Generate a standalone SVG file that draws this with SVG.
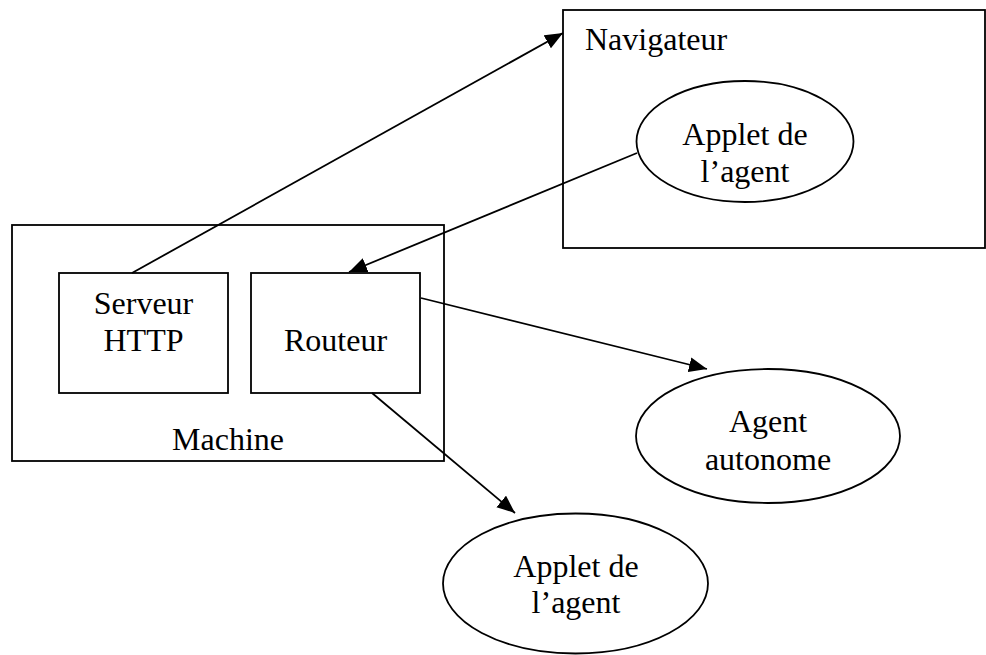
<svg xmlns="http://www.w3.org/2000/svg" width="986" height="655" viewBox="0 0 986 655">
<style>
.s{fill:#fff;stroke:#000;stroke-width:1.8}
.t{font-family:"Liberation Serif","Times New Roman",serif;font-size:32px;fill:#000}
.c{text-anchor:middle}
.l{stroke:#000;stroke-width:1.8;fill:none;marker-end:url(#ah)}
</style>
<defs>
<marker id="ah" markerUnits="userSpaceOnUse" markerWidth="20" markerHeight="16" refX="18" refY="7.5" orient="auto">
<path d="M0,0 L18,7.5 L0,15 Z" fill="#000"/>
</marker>
</defs>
<g id="navigateur">
<rect class="s" x="563" y="10" width="422" height="238"/>
<text class="t" x="585" y="50">Navigateur</text>
</g>
<g id="applet1">
<ellipse class="s" cx="745" cy="141.5" rx="108.5" ry="60.5"/>
<text class="t c" x="745" y="145">Applet de</text>
<text class="t c" x="745" y="182">l’agent</text>
</g>
<g id="machine">
<rect class="s" x="12" y="225" width="432" height="236"/>
<text class="t c" x="228" y="450">Machine</text>
</g>
<g id="serveur">
<rect class="s" x="59" y="273" width="169" height="120"/>
<text class="t c" x="143.5" y="314">Serveur</text>
<text class="t c" x="143.5" y="351">HTTP</text>
</g>
<g id="routeur">
<rect class="s" x="251" y="273" width="169" height="120"/>
<text class="t c" x="335.5" y="351">Routeur</text>
</g>
<g id="agent">
<ellipse class="s" cx="768" cy="436" rx="132" ry="67"/>
<text class="t c" x="768" y="432">Agent</text>
<text class="t c" x="768" y="470">autonome</text>
</g>
<g id="applet2">
<ellipse class="s" cx="575.5" cy="583.5" rx="132.5" ry="70"/>
<text class="t c" x="576" y="577">Applet de</text>
<text class="t c" x="576" y="613">l’agent</text>
</g>
<g id="connectors">
<line class="l" x1="132" y1="273" x2="563" y2="33"/>
<line class="l" x1="637" y1="153" x2="349" y2="272"/>
<line class="l" x1="421" y1="298" x2="707" y2="369"/>
<line class="l" x1="372" y1="393" x2="515" y2="513"/>
</g>
</svg>
